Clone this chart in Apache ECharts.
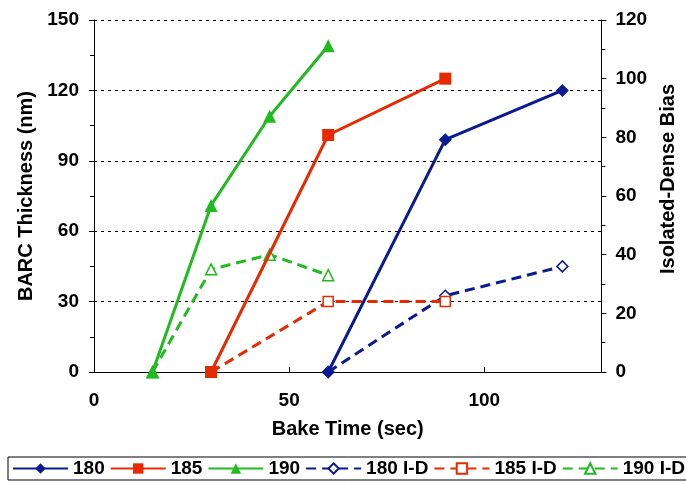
<!DOCTYPE html>
<html>
<head>
<meta charset="utf-8">
<script src="https://cdn.jsdelivr.net/npm/echarts@6/dist/echarts.min.js"></script>
<style>
  html, body { margin: 0; padding: 0; background: #fff; }
  #main { width: 686px; height: 483px; }
</style>
</head>
<body>
<div id="main"></div>
<script>
// bake time (sec) and BARC thickness (nm)
var t180 = [60, 90, 120];
var thk180 = [0, 99, 120];
var t185 = [30, 60, 90];
var thk185 = [0, 101, 125];
var t190 = [15, 30, 45, 60];
var thk190 = [0, 71, 109, 139];

// isolated-dense bias (right axis)
var bias180 = [0, 26, 36];
var bias185 = [0, 24, 24];
var bias190 = [0, 35, 40, 33];

var names = ['180', '185', '190', '180 I-D', '185 I-D', '190 I-D'];
var blue = '#0a1a90', red = '#e82a00', green = '#1fbb1f';

function pairs(xs, ys) {
    var out = [];
    for (var i = 0; i < xs.length; i++) {
        out.push([xs[i], ys[i]]);
    }
    return out;
}

function solid(name, color, symbol, size, data) {
    return {
        name: name, type: 'line', yAxisIndex: 0, data: data,
        color: color, symbol: symbol, symbolSize: size,
        lineStyle: {color: color, width: 3},
        itemStyle: {color: color},
        z: 3
    };
}

function dashed(name, color, symbol, size, data) {
    return {
        name: name, type: 'line', yAxisIndex: 1, data: data,
        color: color, symbol: symbol, symbolSize: size,
        lineStyle: {color: color, width: 3, type: [10, 6]},
        itemStyle: {color: '#fff', borderColor: color, borderWidth: 1.5},
        z: 2
    };
}

var font = 'Liberation Sans, Arial, sans-serif';
var myChart = echarts.init(document.getElementById('main'));

myChart.setOption({
    animation: false,
    grid: {left: 94, right: 78, top: 20, bottom: 111},
    legend: {
        data: names,
        left: 8, top: 457,
        width: 690,
        padding: [2, 4],
        itemGap: 5,
        itemWidth: 55,
        itemHeight: 13,
        borderColor: '#000',
        borderWidth: 1,
        textStyle: {fontFamily: font, fontWeight: 'bold', fontSize: 19, color: '#000'}
    },
    xAxis: {
        type: 'value', min: 0, max: 130, interval: 50,
        name: 'Bake Time (sec)', nameLocation: 'middle', nameGap: 47,
        nameTextStyle: {fontFamily: font, fontWeight: 'bold', fontSize: 20, color: '#000'},
        axisLine: {lineStyle: {color: '#000', width: 1}},
        axisTick: {inside: true, length: 5, lineStyle: {color: '#000'}},
        axisLabel: {fontFamily: font, fontWeight: 'bold', fontSize: 19, color: '#000', margin: 19, showMaxLabel: false},
        splitLine: {show: false}
    },
    yAxis: [
        {
            type: 'value', min: 0, max: 150, interval: 30,
            name: 'BARC Thickness (nm)', nameLocation: 'middle', nameGap: 56,
            nameTextStyle: {fontFamily: font, fontWeight: 'bold', fontSize: 20, color: '#000'},
            axisLine: {show: true, lineStyle: {color: '#000', width: 1}},
            axisTick: {show: true, length: 5, lineStyle: {color: '#000'}},
            minorTick: {show: true, splitNumber: 2, length: 4, lineStyle: {color: '#000'}},
            axisLabel: {fontFamily: font, fontWeight: 'bold', fontSize: 19, color: '#000', margin: 15},
            splitLine: {show: true, lineStyle: {color: '#000', type: [3, 4], width: 1}}
        },
        {
            type: 'value', min: 0, max: 120, interval: 20,
            name: 'Isolated-Dense Bias', nameLocation: 'middle', nameGap: 54,
            nameTextStyle: {fontFamily: font, fontWeight: 'bold', fontSize: 20, color: '#000', padding: [0, 0, 0, 34]},
            axisLine: {show: true, lineStyle: {color: '#000', width: 1}},
            axisTick: {show: true, length: 5, lineStyle: {color: '#000'}},
            minorTick: {show: true, splitNumber: 2, length: 4, lineStyle: {color: '#000'}},
            axisLabel: {fontFamily: font, fontWeight: 'bold', fontSize: 19, color: '#000', margin: 14},
            splitLine: {show: false}
        }
    ],
    series: [
        solid('180', blue, 'diamond', 13, pairs(t180, thk180)),
        solid('185', red, 'rect', 12, pairs(t185, thk185)),
        solid('190', green, 'triangle', 13, pairs(t190, thk190)),
        dashed('180 I-D', blue, 'diamond', 11, pairs(t180, bias180)),
        dashed('185 I-D', red, 'rect', 10, pairs(t185, bias185)),
        dashed('190 I-D', green, 'triangle', 11, pairs(t190, bias190))
    ]
});
</script>
</body>
</html>
